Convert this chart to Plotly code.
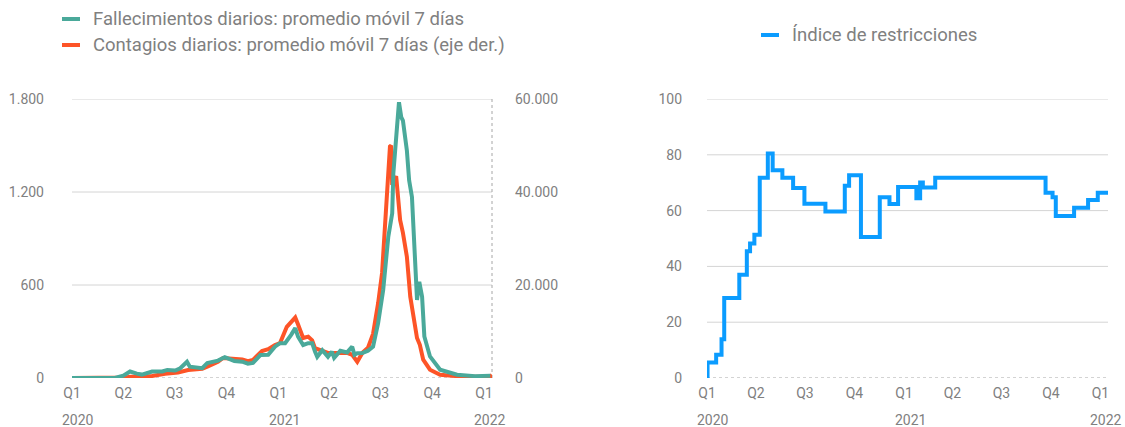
import plotly.graph_objects as go

# Fallecimientos diarios, promedio móvil 7 días (eje izq.)
death_dates = [
    "2020-01-01", "2020-03-17", "2020-04-01", "2020-04-13", "2020-04-25", "2020-05-04",
    "2020-05-22", "2020-06-09", "2020-06-18", "2020-07-02", "2020-07-11", "2020-07-23",
    "2020-07-28", "2020-08-19", "2020-08-28", "2020-09-16", "2020-09-28", "2020-10-04",
    "2020-10-15", "2020-10-29", "2020-11-08", "2020-11-17", "2020-11-30", "2020-12-14",
    "2020-12-26", "2021-01-04", "2021-01-13", "2021-01-24", "2021-01-31", "2021-02-05",
    "2021-02-14", "2021-02-23", "2021-03-02", "2021-03-07", "2021-03-11", "2021-03-20",
    "2021-03-30", "2021-04-06", "2021-04-10", "2021-04-21", "2021-05-03", "2021-05-12",
    "2021-05-16", "2021-05-21", "2021-05-30", "2021-06-09", "2021-06-18", "2021-06-27",
    "2021-07-06", "2021-07-15", "2021-07-22", "2021-07-24", "2021-07-31", "2021-08-03",
    "2021-08-07", "2021-08-10", "2021-08-17", "2021-08-21", "2021-08-26", "2021-09-01",
    "2021-09-04", "2021-09-08", "2021-09-13", "2021-09-17", "2021-09-27", "2021-10-15",
    "2021-11-14", "2021-12-16", "2022-01-12",
]
deaths = [
    0, 0, 15, 42, 28, 22,
    42, 42, 52, 48, 63, 105,
    73, 63, 97, 112, 135, 125,
    110, 105, 92, 97, 148, 150,
    202, 225, 225, 280, 322, 266,
    213, 225, 225, 170, 137, 179,
    137, 170, 130, 176, 165, 202,
    150, 160, 161, 176, 203, 354,
    568, 910, 1063, 1320, 1642, 1779,
    1683, 1661, 1468, 1275, 1168, 782,
    504, 621, 525, 268, 139, 53,
    21, 12, 15,
]

# Contagios diarios, promedio móvil 7 días (eje der.)
case_dates = [
    "2020-01-01", "2020-03-01", "2020-04-03", "2020-04-15", "2020-05-22", "2020-06-14",
    "2020-07-07", "2020-07-25", "2020-08-19", "2020-08-29", "2020-09-16", "2020-09-25",
    "2020-10-04", "2020-10-29", "2020-11-08", "2020-11-17", "2020-12-03", "2020-12-14",
    "2020-12-26", "2021-01-04", "2021-01-16", "2021-01-27", "2021-01-31", "2021-02-05",
    "2021-02-14", "2021-02-23", "2021-03-02", "2021-03-07", "2021-03-20", "2021-03-30",
    "2021-04-21", "2021-05-03", "2021-05-12", "2021-05-21", "2021-05-30", "2021-06-09",
    "2021-06-18", "2021-06-27", "2021-07-04", "2021-07-09", "2021-07-15", "2021-07-18",
    "2021-07-20", "2021-07-22", "2021-07-29", "2021-08-01", "2021-08-05", "2021-08-10",
    "2021-08-17", "2021-08-23", "2021-08-28", "2021-09-04", "2021-09-09", "2021-09-15",
    "2021-09-27", "2021-10-15", "2021-11-19", "2022-01-12", "2022-01-15",
]
cases = [
    0, 0, 100, 250, 430, 900,
    1200, 1700, 2000, 2500, 3500, 4300,
    4200, 4000, 3600, 3900, 5800, 6200,
    7100, 7500, 11000, 12500, 13000, 11500,
    8600, 8900, 8100, 6400, 5900, 5400,
    5400, 5400, 5000, 3500, 5400, 6500,
    9500, 16100, 22600, 31900, 42600, 49800,
    50000, 41500, 43400, 38300, 34000, 31200,
    26100, 17500, 13200, 8600, 7150, 3930,
    1780, 710, 340, 250, 700,
]

# Índice de restricciones (escalones)
idx_dates = [
    "2020-01-01", "2020-01-02", "2020-01-18", "2020-01-28", "2020-02-02", "2020-03-01",
    "2020-03-15", "2020-03-21", "2020-03-29", "2020-04-08", "2020-04-23", "2020-05-02",
    "2020-05-20", "2020-06-09", "2020-06-30", "2020-08-08", "2020-09-13", "2020-09-21",
    "2020-10-13", "2020-11-17", "2020-12-05", "2020-12-21", "2021-01-24", "2021-01-31",
    "2021-02-05", "2021-02-28", "2021-09-21", "2021-10-04", "2021-10-10", "2021-11-13",
    "2021-12-09", "2021-12-27", "2022-01-15",
]
idx_values = [
    0, 5.6, 8.3, 13.9, 28.7, 37.0,
    45.4, 48.2, 51.3, 71.8, 80.5, 74.5,
    71.8, 68.1, 62.5, 59.7, 68.9, 72.7,
    50.5, 64.8, 62.4, 68.5, 64.4, 70.1,
    68.3, 71.8, 66.4, 64.8, 58.1, 61.0,
    63.8, 66.4, 66.4,
]

quarter_dates = ["2020-01-01", "2020-04-01", "2020-07-01", "2020-10-01", "2021-01-01",
                 "2021-04-01", "2021-07-01", "2021-10-01", "2022-01-01"]
quarter_labels = ["Q1", "Q2", "Q3", "Q4", "Q1", "Q2", "Q3", "Q4", "Q1"]
year_dates = ["2020-01-01", "2021-01-01", "2022-01-01"]
year_labels = ["2020", "2021", "2022"]

deaths_ticks = [0, 600, 1200, 1800]
cases_ticks = [0, 20000, 40000, 60000]
idx_ticks = [0, 20, 40, 60, 80, 100]

legend_left = ["Fallecimientos diarios: promedio móvil 7 días",
               "Contagios diarios: promedio móvil 7 días (eje der.)"]
legend_right = "Índice de restricciones"

GREEN = "#4aa99a"
ORANGE = "#fd5427"
BLUE = "#0b9cff"
TXT = "#808080"
GRID = "#d4d4d4"
FONT = "Roboto"
W, H = 1125, 427
x_range = ["2020-01-01", "2022-01-15"]
ydom = [(H - 378) / H, (H - 99) / H]

fig = go.Figure()
fig.add_trace(go.Scatter(x=case_dates, y=cases, xaxis="x", yaxis="y", mode="lines",
                         line=dict(color=ORANGE, width=4), name=legend_left[1]))
fig.add_trace(go.Scatter(x=death_dates, y=deaths, xaxis="x", yaxis="y2", mode="lines",
                         line=dict(color=GREEN, width=4), name=legend_left[0]))
fig.add_trace(go.Scatter(x=idx_dates, y=idx_values, xaxis="x2", yaxis="y3", mode="lines",
                         line=dict(color=BLUE, width=4, shape="hv"), name=legend_right))

xcommon = dict(type="date", range=x_range, tickvals=quarter_dates, ticktext=quarter_labels,
               showgrid=False, zeroline=False, showline=False, ticks="", automargin=False,
               tickfont=dict(size=14, color=TXT), ticklabelstandoff=5)
ycommon = dict(showgrid=False, zeroline=False, showline=False, ticks="", automargin=False,
               tickfont=dict(size=14, color=TXT))
fig.update_layout(
    width=W, height=H, autosize=False,
    paper_bgcolor="white", plot_bgcolor="white",
    margin=dict(l=0, r=0, t=0, b=0, pad=0, autoexpand=False),
    showlegend=False,
    separators=",.",
    font=dict(family=FONT, color=TXT),
    xaxis=dict(domain=[72 / W, 492 / W], anchor="y", **xcommon),
    yaxis=dict(domain=ydom, anchor="x", side="right", range=[0, 60000], tickvals=cases_ticks,
               tickformat=",d", ticklabelstandoff=22, **ycommon),
    yaxis2=dict(overlaying="y", anchor="x", side="left", range=[0, 1800], tickvals=deaths_ticks,
                tickformat=",d", ticklabelstandoff=27, **ycommon),
    xaxis2=dict(domain=[707 / W, 1108 / W], anchor="y3", **xcommon),
    yaxis3=dict(domain=ydom, anchor="x2", range=[0, 100], tickvals=idx_ticks,
                ticklabelstandoff=24, **ycommon),
)

shapes = []
# gridlines (solid) and dotted baselines
for xr, yr, ticks in [("x domain", "y", cases_ticks), ("x2 domain", "y3", idx_ticks)]:
    for v in ticks[1:]:
        shapes.append(dict(type="line", xref=xr, yref=yr, x0=0, x1=1, y0=v, y1=v, layer="below",
                           line=dict(color=GRID, width=1)))
    shapes.append(dict(type="line", xref=xr, yref=yr, x0=0, x1=1, y0=0, y1=0, layer="below",
                       line=dict(color="#a6a6a6", width=1, dash="dot")))
# right border of the left chart
shapes.append(dict(type="line", xref="x domain", yref="y domain", x0=1, x1=1, y0=0, y1=1,
                   layer="below", line=dict(color="#a6a6a6", width=1, dash="dot")))

# legend drawn by hand
leg = [(legend_left[0], GREEN, 62, 19), (legend_left[1], ORANGE, 62, 45), (legend_right, BLUE, 761, 35)]
annotations = []
for text, col, px, py in leg:
    yy = 1 - py / H
    shapes.append(dict(type="line", xref="paper", yref="paper", x0=px / W, x1=(px + 18) / W,
                       y0=yy, y1=yy, line=dict(color=col, width=4)))
    annotations.append(dict(text=text, xref="paper", yref="paper", x=(px + 29) / W, y=yy,
                            xanchor="left", yanchor="middle", showarrow=False,
                            font=dict(size=18.5, color=TXT, family=FONT)))

for xr in ["x", "x2"]:
    for d, lab in zip(year_dates, year_labels):
        annotations.append(dict(text=lab, xref=xr, yref="paper", x=d, y=1 - 420 / H,
                                xanchor="center", yanchor="middle", xshift=6, showarrow=False,
                                font=dict(size=14, color=TXT, family=FONT)))

fig.update_layout(shapes=shapes, annotations=annotations)
fig.write_html("out.html", config={"displayModeBar": False},
               post_script="document.body.style.margin='0';")
